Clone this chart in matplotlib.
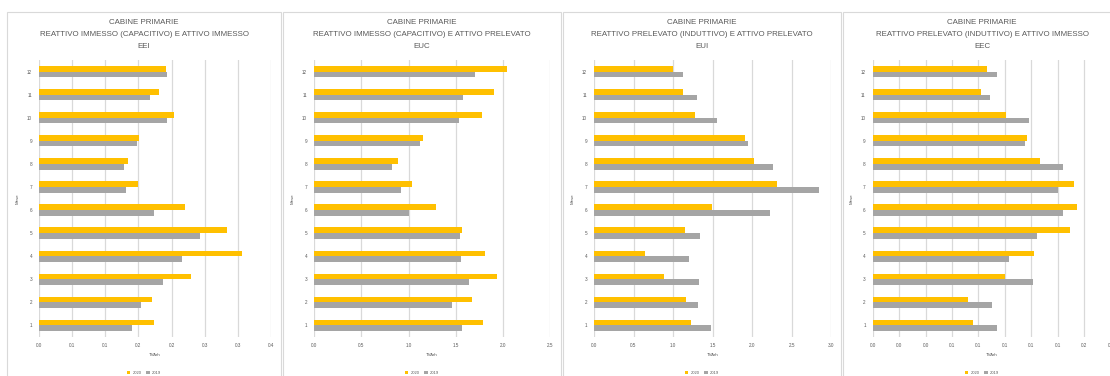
import matplotlib
matplotlib.use("Agg")
import matplotlib.pyplot as plt
from matplotlib.patches import Rectangle
import numpy as np

plt.rcParams['font.family'] = ['Liberation Sans', 'DejaVu Sans']

# ---- data -----------------------------------------------------------------
months = [1, 2, 3, 4, 5, 6, 7, 8, 9, 10, 11, 12]
series_names = ["2020", "2019"]

eei_2020 = [0.173, 0.171, 0.229, 0.306, 0.283, 0.221, 0.149, 0.135, 0.151, 0.203, 0.181, 0.192]
eei_2019 = [0.141, 0.154, 0.187, 0.215, 0.243, 0.174, 0.132, 0.128, 0.148, 0.193, 0.167, 0.193]

euc_2020 = [1.79, 1.675, 1.94, 1.81, 1.566, 1.29, 1.04, 0.889, 1.157, 1.774, 1.90, 2.04]
euc_2019 = [1.566, 1.463, 1.64, 1.551, 1.541, 1.001, 0.92, 0.825, 1.121, 1.534, 1.573, 1.707]

eui_2020 = [1.222, 1.167, 0.889, 0.649, 1.146, 1.488, 2.314, 2.023, 1.905, 1.281, 1.125, 1.003]
eui_2019 = [1.479, 1.311, 1.327, 1.197, 1.344, 2.221, 2.845, 2.259, 1.951, 1.551, 1.302, 1.121]

eec_2020 = [0.0756, 0.0718, 0.1003, 0.1217, 0.1494, 0.1544, 0.1519, 0.1267, 0.1164, 0.101, 0.0816, 0.0864]
eec_2019 = [0.0942, 0.0899, 0.1209, 0.103, 0.1239, 0.1441, 0.1403, 0.1436, 0.1154, 0.1184, 0.0889, 0.0942]

eei_ticks = [0.0, 0.05, 0.10, 0.15, 0.20, 0.25, 0.30, 0.35]
eei_tick_labels = ["0.0", "0.1", "0.1", "0.2", "0.2", "0.3", "0.3", "0.4"]
euc_ticks = [0.0, 0.5, 1.0, 1.5, 2.0, 2.5]
euc_tick_labels = ["0.0", "0.5", "1.0", "1.5", "2.0", "2.5"]
eui_ticks = [0.0, 0.5, 1.0, 1.5, 2.0, 2.5, 3.0]
eui_tick_labels = ["0.0", "0.5", "1.0", "1.5", "2.0", "2.5", "3.0"]
eec_ticks = [0.0, 0.02, 0.04, 0.06, 0.08, 0.10, 0.12, 0.14, 0.16, 0.18]
eec_tick_labels = ["0.0", "0.0", "0.0", "0.1", "0.1", "0.1", "0.1", "0.1", "0.2", "0.2"]

titles = [
    ("CABINE PRIMARIE", "REATTIVO IMMESSO (CAPACITIVO) E ATTIVO IMMESSO", "EEI"),
    ("CABINE PRIMARIE", "REATTIVO IMMESSO (CAPACITIVO) E ATTIVO PRELEVATO", "EUC"),
    ("CABINE PRIMARIE", "REATTIVO PRELEVATO (INDUTTIVO) E ATTIVO PRELEVATO", "EUI"),
    ("CABINE PRIMARIE", "REATTIVO PRELEVATO (INDUTTIVO) E ATTIVO IMMESSO", "EEC"),
]
x_label = "TVArh"
y_label = "Mese"

# ---- styling --------------------------------------------------------------
W, H = 1110, 376
GOLD = "#FFC000"
GREY = "#A5A5A5"
TEXT = "#595959"
GRID = "#D9D9D9"

fig = plt.figure(figsize=(W / 100, H / 100), dpi=100)
fig.patch.set_facecolor("white")

# chart frames (pixel x-extents), axes plot areas (pixel x-extents)
frames = [(7, 281), (283, 561), (563, 841), (843, 1121)]
plots = [(39, 271), (314, 550.3), (594, 831.3), (872.7, 1110.7)]
plot_top, plot_bottom = 60, 337

panels = [
    (eei_2020, eei_2019, eei_ticks, eei_tick_labels),
    (euc_2020, euc_2019, euc_ticks, euc_tick_labels),
    (eui_2020, eui_2019, eui_ticks, eui_tick_labels),
    (eec_2020, eec_2019, eec_ticks, eec_tick_labels),
]

bar_h = 0.246
y = np.array(months, dtype=float)

for (fx0, fx1), (px0, px1), (v20, v19, ticks, tlabels), ttl in zip(frames, plots, panels, titles):
    # frame
    fig.patches.append(Rectangle((fx0 / W, -0.1), (fx1 - fx0) / W, (H - 12) / H + 0.1,
                                 transform=fig.transFigure, fill=False,
                                 edgecolor=GRID, lw=0.8, zorder=0))
    cx = (fx0 + fx1) / 2 / W
    for txt, yy in zip(ttl, (23, 35, 47)):
        fig.text(cx, 1 - yy / H, txt, ha="center", va="center",
                 fontsize=5.7, color=TEXT)

    ax = fig.add_axes([px0 / W, 1 - plot_bottom / H, (px1 - px0) / W,
                       (plot_bottom - plot_top) / H])
    ax.set_facecolor("none")
    ax.barh(y + bar_h / 2, v20, height=bar_h, color=GOLD, label=series_names[0], zorder=3)
    ax.barh(y - bar_h / 2, v19, height=bar_h, color=GREY, label=series_names[1], zorder=3)

    ax.set_xlim(ticks[0], ticks[-1])
    ax.set_ylim(0.5, 12.5)
    ax.set_xticks(ticks)
    ax.set_xticklabels(tlabels)
    ax.set_yticks(months)
    ax.set_yticklabels([str(m) for m in months])
    ax.xaxis.grid(True, color=GRID, lw=0.9, zorder=0)
    ax.set_axisbelow(True)
    for s in ax.spines.values():
        s.set_visible(False)
    ax.tick_params(axis="both", length=0, labelsize=3.3, labelcolor=TEXT)
    ax.tick_params(axis="y", pad=5)
    ax.tick_params(axis="x", pad=4)

    ax.set_xlabel(x_label, fontsize=3.2, color=TEXT, labelpad=4)
    ax.set_ylabel(y_label, fontsize=3.2, color=TEXT)
    ax.yaxis.set_label_coords(-19 / (px1 - px0), 0.5)

    ax.legend(loc="center", bbox_to_anchor=(cx, 3 / H), bbox_transform=fig.transFigure,
              ncol=2, frameon=False, fontsize=3.0, labelcolor=TEXT,
              handlelength=0.9, handleheight=0.9, handletextpad=0.5,
              columnspacing=1.2, borderpad=0)

fig.savefig("out.png", dpi=100)
